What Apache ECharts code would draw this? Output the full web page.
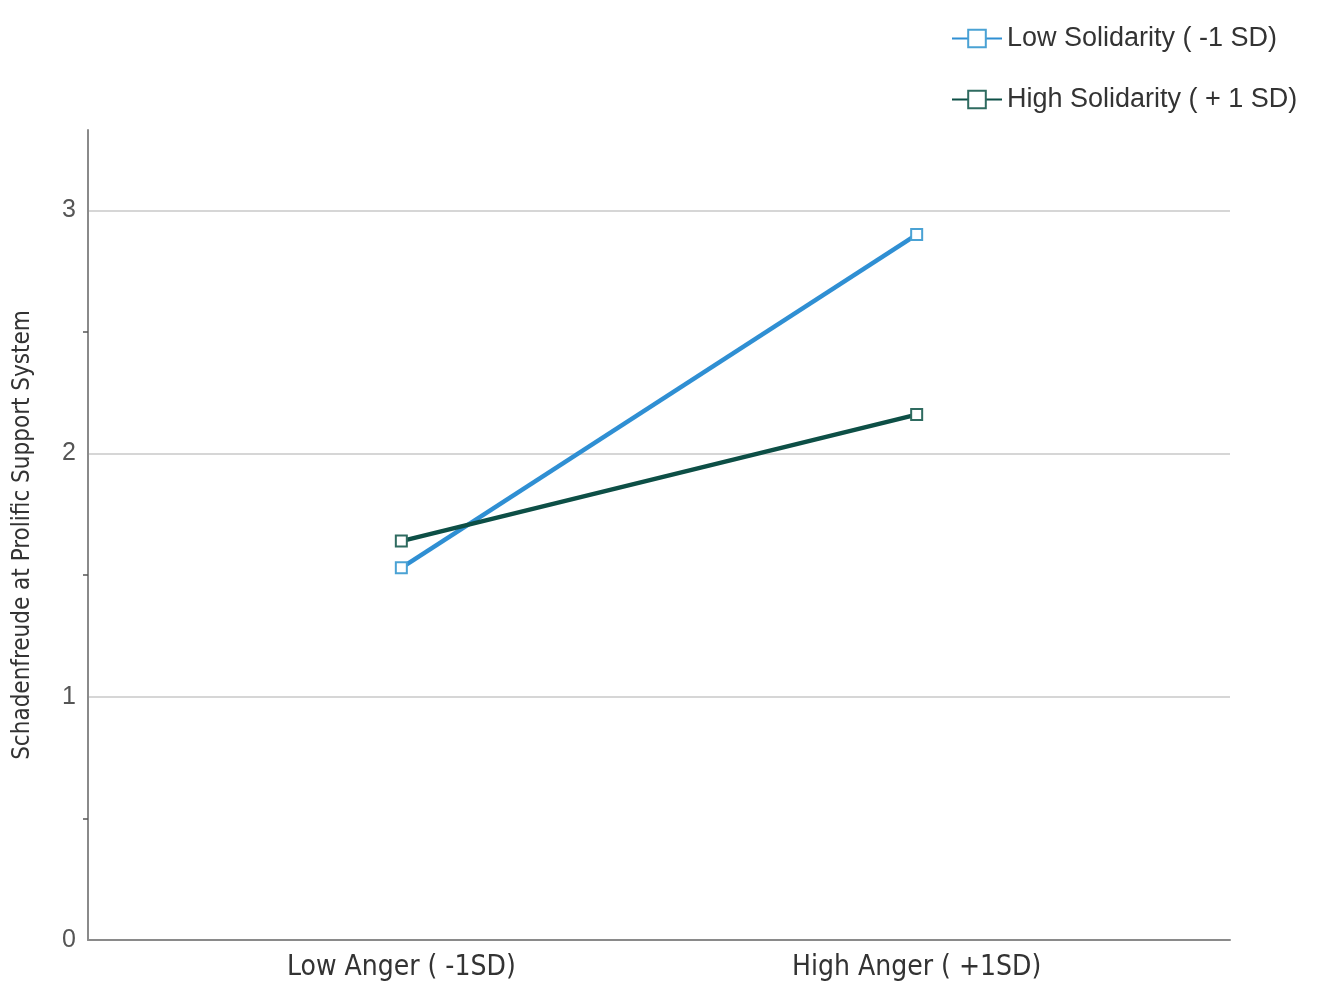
<!DOCTYPE html>
<html>
<head>
<meta charset="utf-8">
<script src="https://cdn.jsdelivr.net/npm/echarts@6/dist/echarts.min.js"></script>
<style>
  html, body { margin: 0; padding: 0; background: #fff; }
  #chart { width: 1323px; height: 984px; }
</style>
</head>
<body>
<div id="chart"></div>
<script>
// categories on the x axis (placed at 0 and 1 of a value axis)
const categories = ["Low Anger ( -1SD)", "High Anger ( +1SD)"];
const seriesNames = ["Low Solidarity ( -1 SD)", "High Solidarity ( + 1 SD)"];
const lowSolidarity = [1.53, 2.90];
const highSolidarity = [1.64, 2.16];
const yTicks = [0, 1, 2, 3];

const narrowFont = "'DejaVu Sans Condensed', 'Liberation Sans Narrow', sans-serif";

let chart = echarts.init(document.getElementById("chart"));

function toPoints(values) {
    return values.map((v, i) => [i, v]);
}

let option = {
    animation: false,
    textStyle: { fontFamily: "Liberation Sans, Arial, sans-serif" },
    legend: {
        orient: "vertical",
        left: 946,
        top: 20,
        itemWidth: 50,
        itemHeight: 22,
        itemGap: 34,
        textStyle: { fontSize: 27, color: "#333" },
        data: seriesNames
    },
    grid: { left: 88, right: 93, top: 130, bottom: 44, outerBoundsMode: "none" },
    xAxis: {
        type: "value",
        min: -0.608,
        max: 1.608,
        splitLine: { show: false },
        axisTick: { show: false },
        axisLine: { lineStyle: { color: "#8a8a8a", width: 2 } },
        axisLabel: {
            customValues: [0, 1],
            formatter: v => categories[Math.round(v)],
            fontSize: 28,
            color: "#333",
            margin: 14,
            fontFamily: narrowFont
        }
    },
    yAxis: {
        type: "value",
        min: 0,
        max: 3.33,
        interval: 1,
        name: "Schadenfreude at Prolific Support System",
        nameLocation: "middle",
        nameGap: 53,
        nameTextStyle: {
            fontSize: 24,
            color: "#333",
            fontFamily: narrowFont
        },
        axisLine: { show: true, onZero: false, lineStyle: { color: "#8a8a8a", width: 2 } },
        axisTick: { show: false },
        minorTick: { show: true, splitNumber: 2, length: 5, lineStyle: { color: "#555", width: 1.5 } },
        splitLine: { showMaxLine: false, lineStyle: { color: "#c8c8c8", width: 1.5 } },
        axisLabel: {
            customValues: yTicks,
            fontSize: 25,
            color: "#555",
            margin: 12
        }
    },
    series: [
        {
            name: seriesNames[0],
            type: "line",
            data: toPoints(lowSolidarity),
            symbol: "rect",
            symbolSize: 11,
            color: "#2f8fd3",
            lineStyle: { color: "#2f8fd3", width: 4.5 },
            itemStyle: { color: "#ffffff", borderColor: "#4aa2d4", borderWidth: 2 }
        },
        {
            name: seriesNames[1],
            type: "line",
            data: toPoints(highSolidarity),
            symbol: "rect",
            symbolSize: 11,
            color: "#0d4f46",
            lineStyle: { color: "#0d4f46", width: 4.5 },
            itemStyle: { color: "#ffffff", borderColor: "#2f6b60", borderWidth: 2 }
        }
    ]
};

chart.setOption(option);
</script>
</body>
</html>
